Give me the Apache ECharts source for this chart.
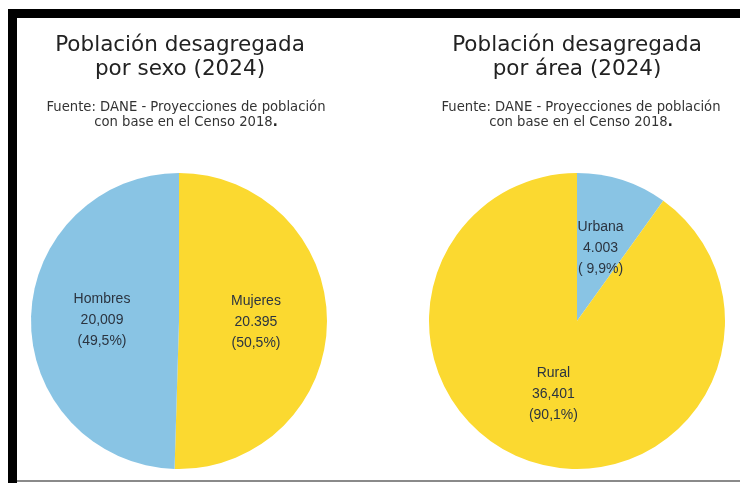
<!DOCTYPE html>
<html>
<head>
<meta charset="utf-8">
<script src="https://cdn.jsdelivr.net/npm/echarts@6/dist/echarts.min.js"></script>
<style>
html,body{margin:0;padding:0;background:#fff;}
#c{width:740px;height:483px;}
</style>
</head>
<body>
<div id="c"></div>
<script>
// Data
const sexCategories = ['Mujeres', 'Hombres'];
const sexValues = [20395, 20009];
const sexValueLabels = ['20.395', '20,009'];
const sexPctLabels = ['(50,5%)', '(49,5%)'];

const areaCategories = ['Urbana', 'Rural'];
const areaValues = [4003, 36401];
const areaValueLabels = ['4.003', '36,401'];
const areaPctLabels = ['( 9,9%)', '(90,1%)'];

const titles = ['Población desagregada\npor sexo (2024)', 'Población desagregada\npor área (2024)'];
const sourceText = 'Fuente: DANE - Proyecciones de población\ncon base en el Censo 2018{d|.}';

const BLUE = '#89C4E4';
const YELLOW = '#FBD930';

const chart = echarts.init(document.getElementById('c'), null, {renderer: 'canvas'});

function pieSeries(cats, vals, vLabels, pLabels, center, colors) {
  return {
    type: 'pie',
    center: center,
    radius: 148,
    startAngle: 90,
    clockwise: true,
    avoidLabelOverlap: false,
    silent: true,
    data: cats.map((c, i) => ({name: c, value: vals[i], itemStyle: {color: colors[i]}})),
    itemStyle: {borderWidth: 0},
    label: {
      show: true,
      position: 'inside',
      color: '#2b3440',
      fontFamily: 'Liberation Sans, Arial, sans-serif',
      fontSize: 14,
      lineHeight: 21,
      align: 'center',
      formatter: p => [p.name, vLabels[p.dataIndex], pLabels[p.dataIndex]].join('\n')
    },
    labelLine: {show: false},
    emphasis: {disabled: true}
  };
}

const titleStyle = {fontFamily: 'DejaVu Sans, Verdana, sans-serif', fontSize: 21.5, fontWeight: 'normal', color: '#222', lineHeight: 24};
const subStyle = {fontFamily: 'DejaVu Sans, Verdana, sans-serif', fontSize: 13.2, fontWeight: 'normal', color: '#333', lineHeight: 15, rich: {d: {fontFamily: 'DejaVu Sans, Verdana, sans-serif', fontSize: 13.2, fontWeight: 'bold', color: '#222'}}};

chart.setOption({
  backgroundColor: '#fff',
  animation: false,
  title: [
    {text: titles[0], left: 175, top: 28, textAlign: 'center', textStyle: titleStyle},
    {text: titles[1], left: 572, top: 28, textAlign: 'center', textStyle: titleStyle},
    {text: sourceText, left: 181, top: 95, textAlign: 'center', textStyle: subStyle},
    {text: sourceText, left: 576, top: 95, textAlign: 'center', textStyle: subStyle}
  ],
  graphic: [
    {type: 'rect', shape: {x: 8, y: 9, width: 732, height: 9}, style: {fill: '#000'}, silent: true},
    {type: 'rect', shape: {x: 8, y: 9, width: 9, height: 474}, style: {fill: '#000'}, silent: true},
    {type: 'rect', shape: {x: 17, y: 480, width: 723, height: 2}, style: {fill: '#8a8a8a'}, silent: true}
  ],
  series: [
    pieSeries(sexCategories, sexValues, sexValueLabels, sexPctLabels, [179, 321], [YELLOW, BLUE]),
    pieSeries(areaCategories, areaValues, areaValueLabels, areaPctLabels, [577, 321], [BLUE, YELLOW])
  ]
});
</script>
</body>
</html>
